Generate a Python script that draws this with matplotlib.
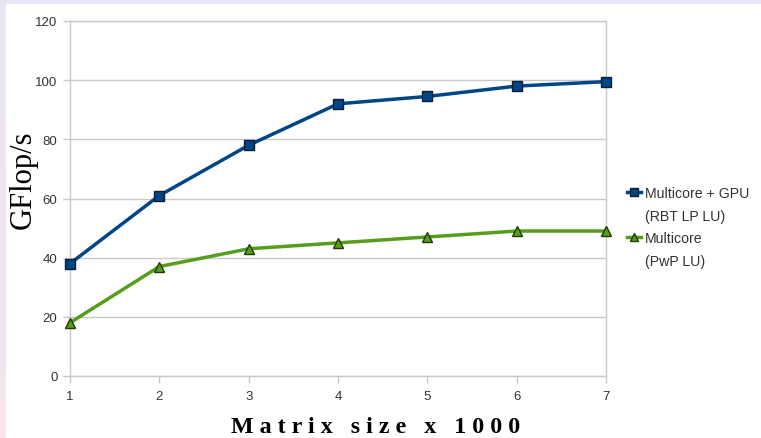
import matplotlib
matplotlib.use("Agg")
import matplotlib.pyplot as plt
import numpy as np
from matplotlib.lines import Line2D

sizes = [1, 2, 3, 4, 5, 6, 7]
gpu = [38, 61, 78, 92, 94.5, 98, 99.5]
multicore = [18, 37, 43, 45, 47, 49, 49]
yticks = [0, 20, 40, 60, 80, 100, 120]
labels = ["Multicore + GPU\n(RBT LP LU)", "Multicore\n(PwP LU)"]

plt.rcParams['font.family'] = ['Liberation Sans', 'DejaVu Sans']

W, H = 761, 439
fig = plt.figure(figsize=(W/100, H/100), dpi=100)

# background gradient frame
bg = fig.add_axes([0, 0, 1, 1])
grad = np.linspace(0, 1, 256).reshape(-1, 1)
top = np.array([0.91, 0.90, 0.97])
bot = np.array([0.97, 0.89, 0.93])
img = top[None, None, :] * (1 - grad[:, :, None]) + bot[None, None, :] * grad[:, :, None]
bg.imshow(img, aspect="auto", extent=[0, 1, 0, 1])
bg.add_patch(plt.Rectangle((6/W, 0), 1, 1 - 5/H, color="white"))
bg.set_xlim(0, 1); bg.set_ylim(0, 1)
bg.axis("off")

ax = fig.add_axes([70/W, 1 - 377/H, (606-70)/W, (377-22)/H])
ax.set_xlim(1, 7)
ax.set_ylim(0, 120)
ax.set_yticks(yticks)
ax.set_xticks(sizes)
ax.grid(axis="y", color="#c8c8c8", lw=1)
ax.set_axisbelow(True)
for s in ax.spines.values():
    s.set_color("#c8c8c8")
    s.set_linewidth(1)
ax.tick_params(colors="#c8c8c8", labelcolor="#333333", labelsize=9.5, length=5, width=1)
ax.tick_params(axis="y", pad=4)
ax.tick_params(axis="x", pad=5)

blue = "#004586"
green = "#579d1c"
ax.plot(sizes, gpu, color=blue, lw=2.5, marker="s", ms=7.5, mfc=blue, mec="#0b1e33", mew=1, clip_on=False, zorder=3)
ax.plot(sizes, multicore, color=green, lw=2.5, marker="^", ms=7.5, mfc=green, mec="#1f3a05", mew=1, clip_on=False, zorder=3)

ax.set_ylabel("GFlop/s", family="Liberation Serif", fontsize=22)
ax.yaxis.set_label_coords((38 - 70)/536, (377 - 180)/355)
ax.set_xlabel("M a t r i x   s i z e   x   1 0 0 0", family="Liberation Serif", fontweight="bold", fontsize=17.3)
ax.xaxis.set_label_coords((376 - 70)/536, -(438 - 377)/355)
ax.xaxis.label.set_va("bottom")

# legend drawn manually (handle aligned with first line of each label)
styles = [dict(color=blue, marker="s", mfc=blue, mec="#0b1e33"),
          dict(color=green, marker="^", mfc=green, mec="#1f3a05")]
ys = [193, 238]
for lab, st, yp in zip(labels, styles, ys):
    fy = 1 - yp/H
    fig.add_artist(Line2D([627/W, 634/W, 641/W], [fy, fy, fy], transform=fig.transFigure, lw=2.5, ms=6,
                          markevery=[1], **st))
    fig.text(645/W, 1 - (yp - 6)/H, lab, ha="left", va="top", fontsize=10.2, color="#333333",
             linespacing=1.85, transform=fig.transFigure)

fig.savefig("out.png", dpi=100)
